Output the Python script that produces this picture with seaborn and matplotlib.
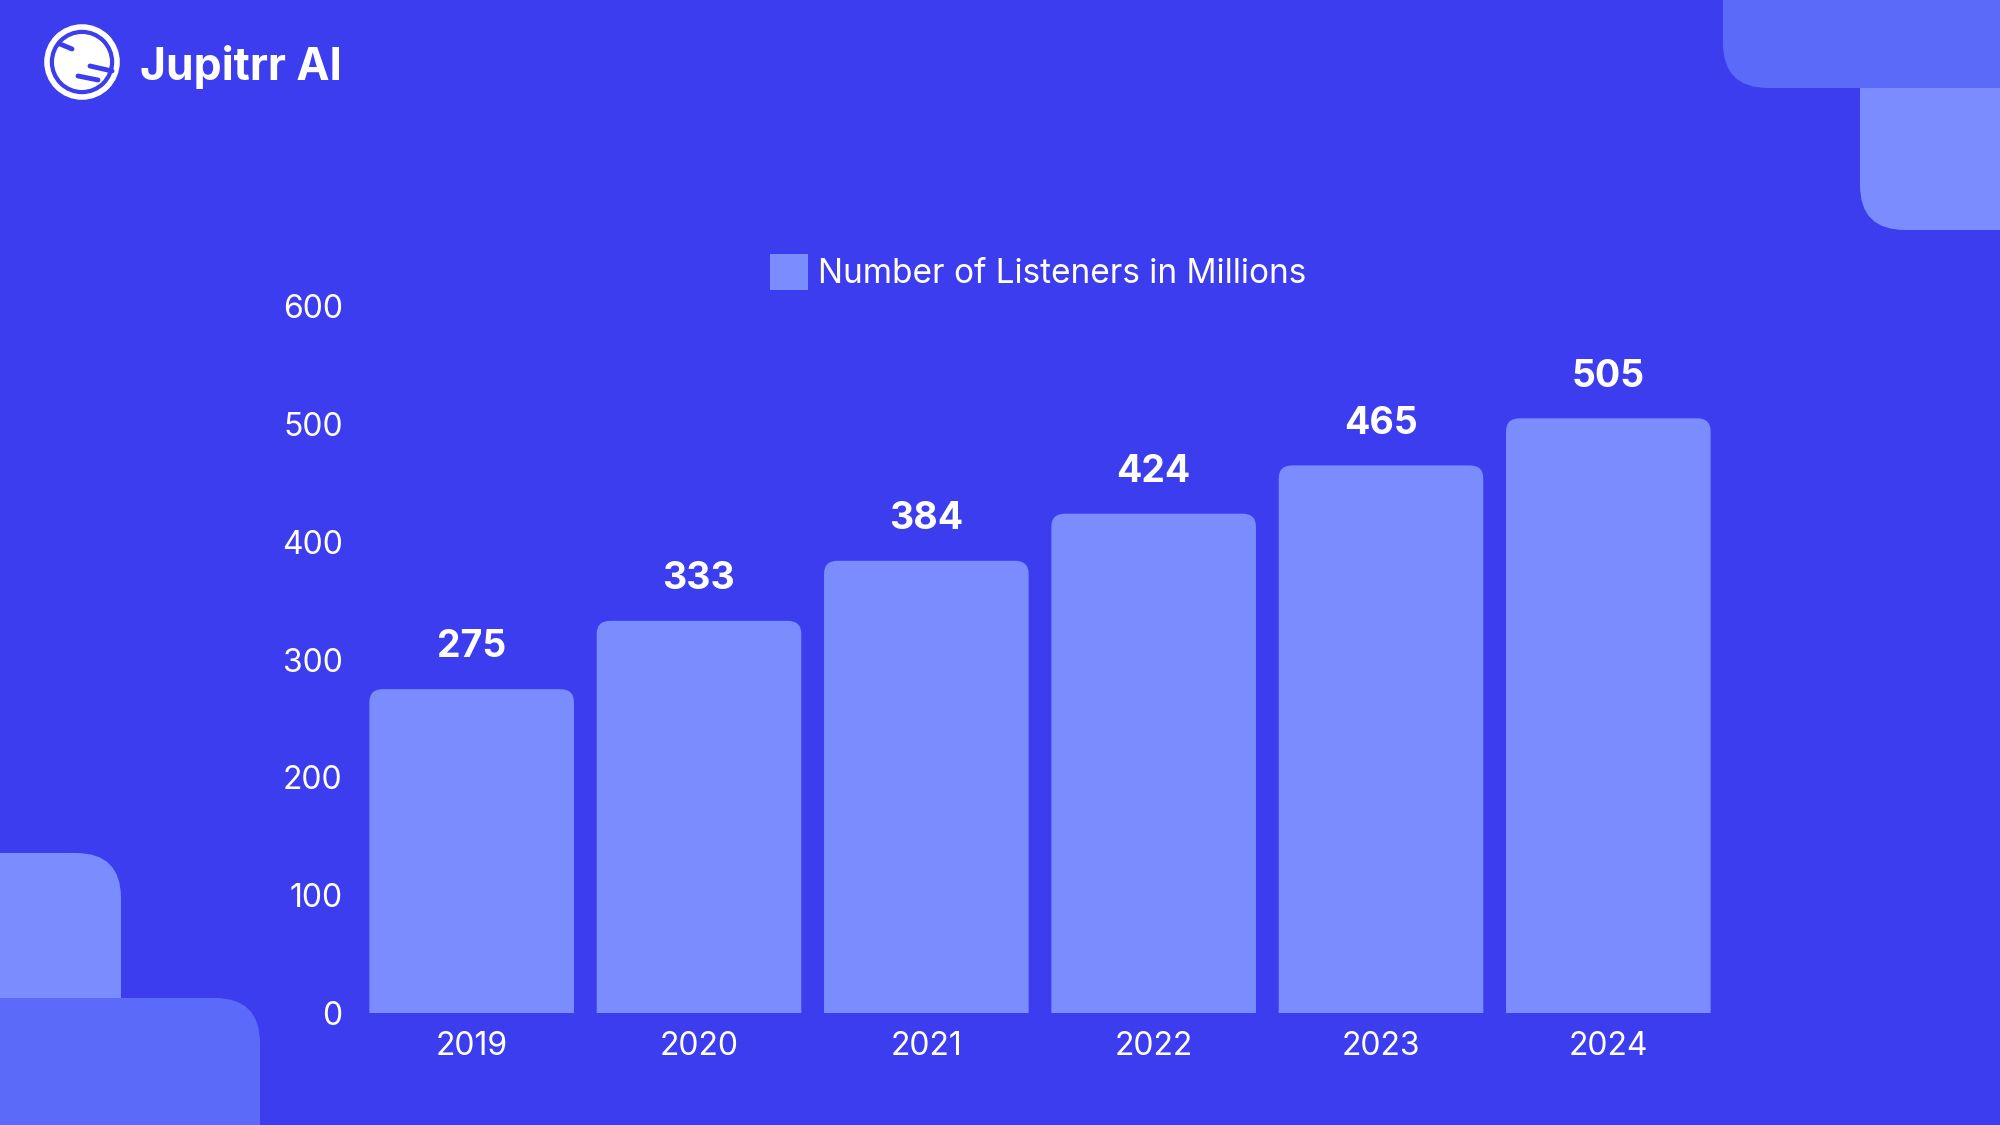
import matplotlib
matplotlib.use("Agg")
import matplotlib.pyplot as plt
from matplotlib.patches import FancyBboxPatch, Patch, Circle
import seaborn as sns

# data
years = ["2019", "2020", "2021", "2022", "2023", "2024"]
listeners = [275, 333, 384, 424, 465, 505]
series_label = "Number of Listeners in Millions"
y_ticks = [0, 100, 200, 300, 400, 500, 600]

bg = "#3B3DEE"
bar_color = "#7B8CFF"
dark_shape = "#5B6AF8"

sns.set_style("white")
plt.rcParams["font.family"] = ["Inter", "DejaVu Sans"]

fig = plt.figure(figsize=(20, 11.25), dpi=100)
fig.patch.set_facecolor(bg)

# background decorations in pixel coordinates
bg_ax = fig.add_axes([0, 0, 1, 1], zorder=0)
bg_ax.set_xlim(0, 2000)
bg_ax.set_ylim(1125, 0)
bg_ax.axis("off")
r = 45
shapes = [
    (1860, -200, 400, 430, bar_color),   # top-right light
    (1723, -200, 500, 288, dark_shape),  # top-right dark
    (-300, 853, 421, 500, bar_color),    # bottom-left light
    (-300, 998, 560, 400, dark_shape),   # bottom-left dark
]
for x0, y0, w, h, c in shapes:
    bg_ax.add_patch(FancyBboxPatch((x0, y0), w, h,
                                   boxstyle=f"round,pad=0,rounding_size={r}",
                                   fc=c, ec="none"))

# logo
bg_ax.add_patch(Circle((82, 62), 35, fc="none", ec="white", lw=4))
bg_ax.add_patch(Circle((82, 62), 28, fc="white", ec="none"))
for (xa, ya), (xb, yb) in [((60, 44), (72, 49)), ((90, 66), (112, 71)), ((78, 76), (98, 80))]:
    bg_ax.plot([xa, xb], [ya, yb], color=bg, lw=3.5, solid_capstyle="round")
bg_ax.text(140, 80, "Jupitrr AI", color="white", fontsize=32, fontweight="bold",
           ha="left", va="baseline")

# main chart
ax = fig.add_axes([0.179, 0.0996, 0.682, 0.628], zorder=1)
ax.set_facecolor("none")
sns.barplot(x=years, y=listeners, color=bar_color, width=0.9, saturation=1, ax=ax)

# rounded top corners
rx = 0.06
ry = 11
for bar in list(ax.patches):
    x, w, h = bar.get_x(), bar.get_width(), bar.get_height()
    bar.set_visible(False)
    ax.add_patch(FancyBboxPatch((x, -30), w, h + 30,
                                boxstyle=f"round,pad=0,rounding_size={rx}",
                                mutation_aspect=ry / rx,
                                fc=bar_color, ec="none", clip_on=True))
    ax.annotate(f"{int(round(h))}", (x + w / 2, h), xytext=(0, 30),
                textcoords="offset points", ha="center", va="center",
                color="white", fontsize=27, fontweight="bold")

ax.set_xlim(-0.5, len(years) - 0.5)
ax.set_ylim(0, 600)
ax.set_yticks(y_ticks)
ax.set_yticklabels([str(t) for t in y_ticks])
ax.tick_params(axis="both", length=0, colors="white", labelsize=23)
ax.tick_params(axis="y", pad=11)
ax.tick_params(axis="x", pad=13)
ax.set_xlabel("")
ax.set_ylabel("")
sns.despine(ax=ax, left=True, bottom=True)

ax.legend(handles=[Patch(fc=bar_color, ec="none", label=series_label)],
          loc="center", bbox_to_anchor=(0.519, 0.758), bbox_transform=fig.transFigure,
          frameon=False, fontsize=24, labelcolor="white",
          handlelength=1.15, handleheight=1.25, handletextpad=0.3)

fig.savefig("out.png", dpi=100, facecolor=bg)
